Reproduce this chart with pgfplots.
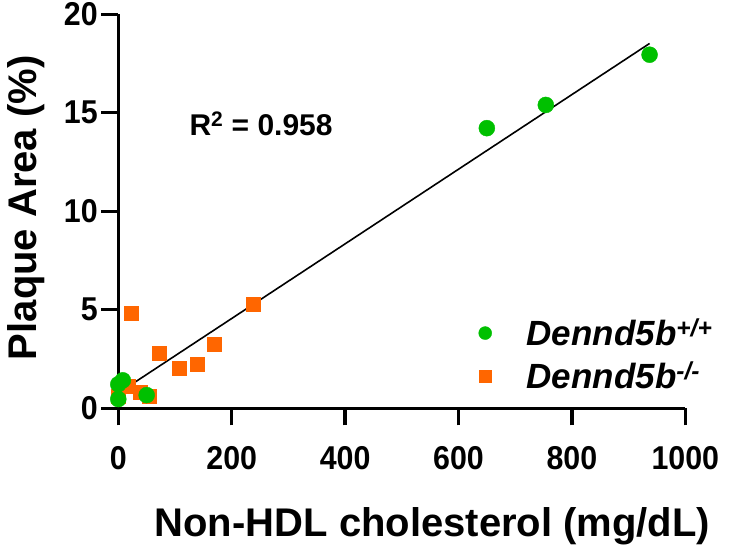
\documentclass[border=0pt]{standalone}
\usepackage{fontspec}
\setmainfont{Liberation Sans}
\newfontfamily\narrow{Liberation Sans}[FakeStretch=0.92]
\usepackage{pgfplots}
\pgfplotsset{compat=1.18}
\definecolor{grn}{RGB}{0,192,0}
\definecolor{org}{RGB}{255,102,0}
\begin{document}
\begin{tikzpicture}
\begin{axis}[
  at={(0,0)}, anchor=origin,
  scale only axis, width=567pt, height=394pt,
  xmin=0, xmax=1000, ymin=0, ymax=20,
  clip=false,
  axis x line*=bottom, axis y line*=left,
  axis line style={line width=3.3pt},
  xtick={0,200,400,600,800,1000}, ytick={0,5,10,15,20},
  tick align=outside, major tick length=17pt,
  tick style={line width=3.3pt, black},
  every tick label/.append style={font=\narrow\fontsize{33}{33}\selectfont\bfseries},
  xticklabel style={yshift=-18pt},
  /pgf/number format/assume math mode=true,
  /pgf/number format/set thousands separator={},
  xlabel={Non-HDL cholesterol (mg/dL)},
  ylabel={Plaque Area (\%)},
  label style={font=\fontsize{40}{40}\selectfont\bfseries},
  xlabel style={at={(axis description cs:0.554,-0.326)}, anchor=base},
  ylabel style={at={(axis description cs:-0.145,0.509)}, anchor=base},
  legend style={draw=none, fill=none, at={(axis cs:630,4.75)}, anchor=north west,
    font=\fontsize{35}{35}\selectfont\bfseries\itshape, row sep=11pt, column sep=33pt},
  legend cell align=left,
  reverse legend,
]
\addplot[black, line width=1.6pt, no marks, forget plot] coordinates {(0,0.77) (937,18.52)};
\addplot[only marks, mark=square*, mark size=7pt, color=org,
  legend image post style={mark size=6pt}] coordinates {
  (0,0.6) (17,1.12) (22,4.85) (38,0.8) (55,0.63) (73,2.78) (107,2.03) (139,2.22) (170,3.25) (238,5.3)};
\addlegendentry{Dennd5b\textsuperscript{-/-}}
\addplot[only marks, mark=*, mark size=8pt, color=grn,
  legend image post style={mark size=6.5pt}] coordinates {
  (0,0.47) (0,1.22) (8,1.42) (50,0.67) (650,14.22) (754,15.4) (937,17.95)};
\addlegendentry{Dennd5b\textsuperscript{+/+}}
\node[anchor=base west, font=\fontsize{30}{30}\selectfont\bfseries] at (axis cs:119.4,13.85) {R\textsuperscript{2} = 0.958};
\end{axis}
\pgfresetboundingbox
\path[use as bounding box] (-118.3pt,-138.7pt) rectangle (628.7pt,408.3pt);
\end{tikzpicture}
\end{document}
